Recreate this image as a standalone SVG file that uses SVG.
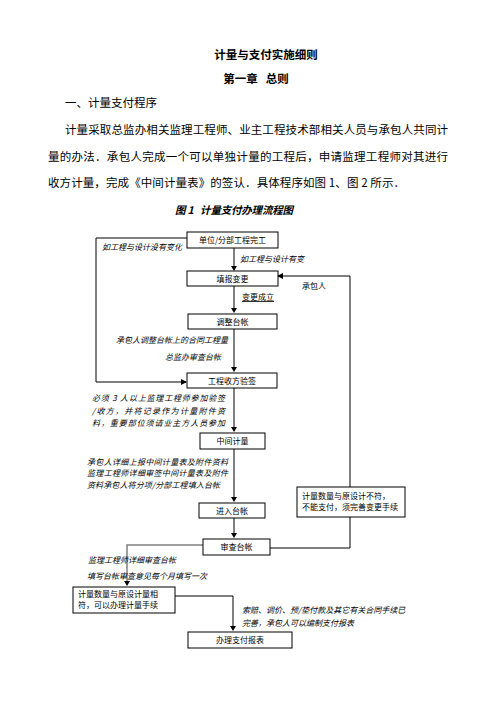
<svg xmlns="http://www.w3.org/2000/svg" width="496" height="702" viewBox="0 0 496 702">
<style>
text{font-family:"Noto Sans CJK SC","Noto Sans",sans-serif;fill:#000}
.t{font-size:11.5px;font-weight:bold}
.p{font-size:11.5px}
.cap{font-size:10.5px;font-weight:bold;font-style:italic}
.b{font-size:8px}
.l{font-size:8px;font-style:italic}
.box{fill:#fff;stroke:#000;stroke-width:1}
.g{stroke:#808080;stroke-width:2;fill:none}
.k{stroke:#000;stroke-width:1;fill:none}
</style>
<defs>
<marker id="a" markerWidth="6" markerHeight="6" refX="5" refY="3" orient="auto" markerUnits="userSpaceOnUse">
<path d="M0,0 L6,3 L0,6 Z" fill="#000"/>
</marker>
</defs>
<rect width="496" height="702" fill="#fff"/>
<text class="t" x="266" y="59" text-anchor="middle">计量与支付实施细则</text>
<text class="t" x="256" y="83" text-anchor="middle" xml:space="preserve">第一章   总则</text>
<text class="p" x="65" y="107" textLength="92">一、计量支付程序</text>
<text class="p" x="65" y="134" textLength="383">计量采取总监办相关监理工程师、业主工程技术部相关人员与承包人共同计</text>
<text class="p" x="48" y="161" textLength="400">量的办法．承包人完成一个可以单独计量的工程后，申请监理工程师对其进行</text>
<text class="p" x="48" y="187" textLength="357">收方计量，完成《中间计量表》的签认．具体程序如图 1、图 2 所示．</text>
<text class="cap" x="175" y="214" textLength="118" xml:space="preserve">图 1   计量支付办理流程图</text>

<g id="connectors">
<polyline class="k" points="187,238 96,238 96,382 186,382" marker-end="url(#a)"/>
<line class="g" x1="234" y1="248" x2="234" y2="267"/>
<path d="M231,266 L234,271 L237,266 Z"/>
<polyline class="k" points="350,487 350,276 278,276" marker-end="url(#a)"/>
<polyline class="k" points="350,517 350,548 270,548"/>
<line class="g" x1="234" y1="286" x2="234" y2="309"/>
<path d="M231,308 L234,313 L237,308 Z"/>
<line class="g" x1="234" y1="329" x2="234" y2="368"/>
<path d="M231,367 L234,372 L237,367 Z"/>
<line class="g" x1="234" y1="388" x2="234" y2="428"/>
<path d="M231,427 L234,432 L237,427 Z"/>
<line class="g" x1="234" y1="449" x2="234" y2="498"/>
<path d="M231,497 L234,502 L237,497 Z"/>
<line class="g" x1="234" y1="518" x2="234" y2="534"/>
<path d="M231,533 L234,538 L237,533 Z"/>
<polyline class="g" points="203,545 127,545 127,582" style="stroke-width:1.5"/>
<path d="M124,581 L127,586 L130,581 Z"/>
<polyline class="k" points="175,596 233,596 233,627"/>
<path d="M230,626 L233,631 L236,626 Z"/>
</g>

<g id="n1"><rect class="box" x="187" y="232" width="91" height="16"/><text class="b" x="232.5" y="243" text-anchor="middle">单位/分部工程完工</text></g>
<g id="n2"><rect class="box" x="187" y="271" width="91" height="15"/><text class="b" x="232.5" y="281.5" text-anchor="middle">填报变更</text></g>
<g id="n3"><rect class="box" x="188" y="314" width="89" height="15"/><text class="b" x="232.5" y="324.5" text-anchor="middle">调整台帐</text></g>
<g id="n4"><rect class="box" x="187" y="373" width="90" height="15"/><text class="b" x="232" y="383.5" text-anchor="middle">工程收方验签</text></g>
<g id="n5"><rect class="box" x="200" y="433" width="65" height="16"/><text class="b" x="232.5" y="444" text-anchor="middle">中间计量</text></g>
<g id="n6"><rect class="box" x="199" y="503" width="66" height="15"/><text class="b" x="232" y="513.5" text-anchor="middle">进入台帐</text></g>
<g id="n7"><rect class="box" x="203" y="539" width="67" height="16"/><text class="b" x="236.5" y="550" text-anchor="middle">审查台帐</text></g>
<g id="n8"><rect class="box" x="297" y="487" width="108" height="30"/><text class="b" x="302" y="499">计量数量与原设计不符，</text><text class="b" x="302" y="510">不能支付，须完善变更手续</text></g>
<g id="n9"><rect class="box" x="73" y="587" width="102" height="26"/><text class="b" x="78" y="597">计量数量与原设计量相</text><text class="b" x="78" y="608">符，可以办理计量手续</text></g>
<g id="n10"><rect class="box" x="188" y="632" width="104" height="16"/><text class="b" x="240" y="643" text-anchor="middle">办理支付报表</text></g>

<g id="labels">
<text class="l" x="102" y="250">如工程与设计没有变化</text>
<text class="l" x="240" y="262">如工程与设计有变</text>
<text class="b" x="302" y="289">承包人</text>
<text class="b" x="242" y="300" text-decoration="underline">变更成立</text>
<text class="l" x="116" y="343">承包人调整台帐上的合同工程量</text>
<text class="l" x="165" y="360">总监办审查台帐</text>
<text class="l" x="92" y="401" textLength="133">必须 3 人以上监理工程师参加验签</text>
<text class="l" x="92" y="414" textLength="133">/收方，并将记录作为计量附件资</text>
<text class="l" x="92" y="426" textLength="133">料，重要部位须请业主方人员参加</text>
<text class="l" x="87" y="465" textLength="141">承包人详细上报中间计量表及附件资料</text>
<text class="l" x="87" y="476" textLength="141">监理工程师详细审签中间计量表及附件</text>
<text class="l" x="87" y="488" textLength="133">资料承包人将分项/分部工程填入台帐</text>
<text class="l" x="88" y="563">监理工程师详细审查台帐</text>
<text class="l" x="87" y="579">填写台帐审查意见每个月填写一次</text>
<text class="l" x="242" y="613">索赔、调价、预/垫付款及其它有关合同手续已</text>
<text class="l" x="242" y="626">完善，承包人可以编制支付报表</text>
</g>
</svg>
